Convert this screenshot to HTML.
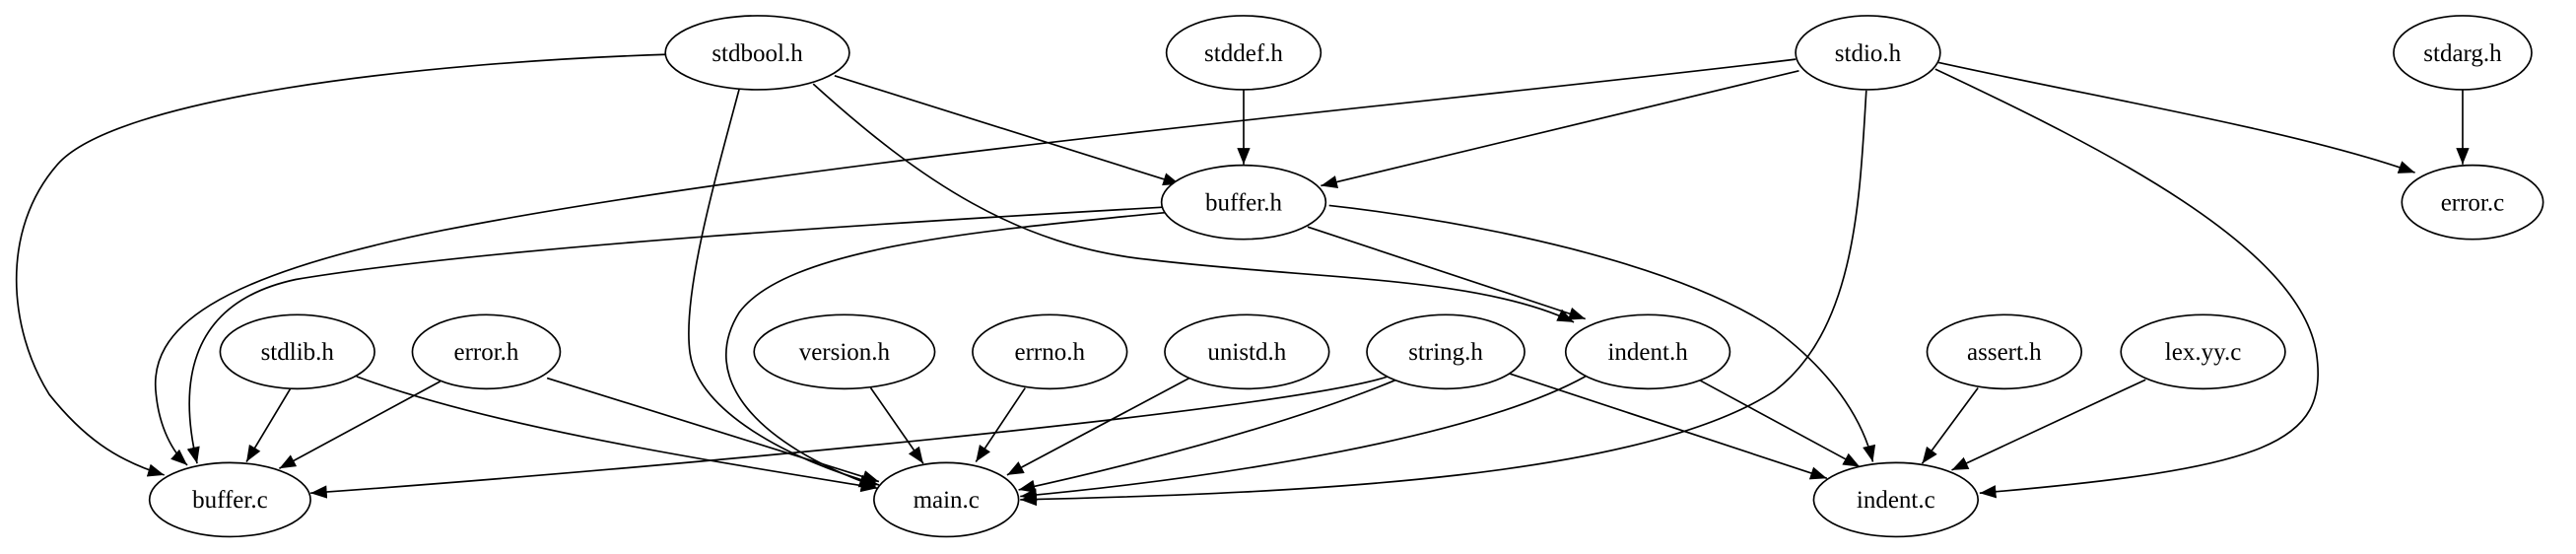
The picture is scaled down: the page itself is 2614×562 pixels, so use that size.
<!DOCTYPE html>
<html><head><meta charset="utf-8"><style>html,body{margin:0;padding:0;background:#fff}svg{display:block}</style></head>
<body>
<svg width="2614" height="562" viewBox="0 0 1568 337" xmlns="http://www.w3.org/2000/svg">
<defs>
<marker id="a" markerUnits="userSpaceOnUse" markerWidth="12" markerHeight="10" refX="10" refY="4" orient="auto">
<path d="M0,0 L10,4 L0,8 Z" fill="#000"/>
</marker>
</defs>
<g fill="none" stroke="#000" stroke-width="1" marker-end="url(#a)">
<path d="M408,33 C250,38 70,60 35,100 C0,140 5,200 30,240 C50,265 70,280 100,289"/>
<path d="M450,54 C435,110 415,180 420,215 C425,250 480,280 535,295"/>
<path d="M508,46 L718,112"/>
<path d="M495,51 C560,110 620,150 700,158 C800,170 900,168 958,196"/>
<path d="M796,138 L965,194"/>
<path d="M757,54 L757,100"/>
<path d="M1093,36 C900,60 500,95 270,140 C130,168 90,200 95,240 C97,260 105,275 114,283"/>
<path d="M1095,43 L804,113"/>
<path d="M1136,55 C1132,120 1130,200 1080,238 C1000,290 800,300 621,304"/>
<path d="M1178,42 C1280,90 1400,150 1410,215 C1418,270 1380,285 1205,300"/>
<path d="M1180,38 C1280,60 1400,80 1470,105"/>
<path d="M1499,54 L1499,100"/>
<path d="M708,126 C550,135 300,150 180,170 C110,185 110,240 120,282"/>
<path d="M712,129 C600,140 480,150 450,190 C425,230 460,270 533,296"/>
<path d="M809,125 C900,135 1020,160 1080,200 C1120,230 1135,260 1140,281"/>
<path d="M177,236 L150,281"/>
<path d="M217,229 C300,260 430,280 534,297"/>
<path d="M268,232 L170,285"/>
<path d="M333,230 L535,293"/>
<path d="M530,236 L562,282"/>
<path d="M624,236 L594,281"/>
<path d="M724,230 L613,289"/>
<path d="M845,229 C780,250 400,285 189,300"/>
<path d="M850,231 C780,260 680,285 620,298"/>
<path d="M918,227 L1112,291"/>
<path d="M965,229 C900,265 750,290 621,302"/>
<path d="M1034,231 L1132,284"/>
<path d="M1204,236 L1170,282"/>
<path d="M1306,231 L1188,286"/>
</g>
<g fill="#fff" stroke="#000" stroke-width="1">
<ellipse cx="461" cy="32" rx="56" ry="22.5"/>
<ellipse cx="757" cy="32" rx="47" ry="22.5"/>
<ellipse cx="1137" cy="32" rx="44" ry="22.5"/>
<ellipse cx="1499" cy="32" rx="42" ry="22.5"/>
<ellipse cx="757" cy="123" rx="50" ry="22.5"/>
<ellipse cx="1505" cy="123" rx="43" ry="22.5"/>
<ellipse cx="181" cy="214" rx="47" ry="22.5"/>
<ellipse cx="296" cy="214" rx="45" ry="22.5"/>
<ellipse cx="514" cy="214" rx="55" ry="22.5"/>
<ellipse cx="639" cy="214" rx="47" ry="22.5"/>
<ellipse cx="759" cy="214" rx="50" ry="22.5"/>
<ellipse cx="880" cy="214" rx="48" ry="22.5"/>
<ellipse cx="1003" cy="214" rx="50" ry="22.5"/>
<ellipse cx="1220" cy="214" rx="47" ry="22.5"/>
<ellipse cx="1341" cy="214" rx="50" ry="22.5"/>
<ellipse cx="140" cy="304" rx="49" ry="22.5"/>
<ellipse cx="576" cy="304" rx="44" ry="22.5"/>
<ellipse cx="1154" cy="304" rx="50" ry="22.5"/>
</g>
<g font-family="Liberation Serif, serif" font-size="15" text-anchor="middle" fill="#000">
<text x="461" y="37">stdbool.h</text>
<text x="757" y="37">stddef.h</text>
<text x="1137" y="37">stdio.h</text>
<text x="1499" y="37">stdarg.h</text>
<text x="757" y="128">buffer.h</text>
<text x="1505" y="128">error.c</text>
<text x="181" y="219">stdlib.h</text>
<text x="296" y="219">error.h</text>
<text x="514" y="219">version.h</text>
<text x="639" y="219">errno.h</text>
<text x="759" y="219">unistd.h</text>
<text x="880" y="219">string.h</text>
<text x="1003" y="219">indent.h</text>
<text x="1220" y="219">assert.h</text>
<text x="1341" y="219">lex.yy.c</text>
<text x="140" y="309">buffer.c</text>
<text x="576" y="309">main.c</text>
<text x="1154" y="309">indent.c</text>
</g>
</svg>
</body></html>
